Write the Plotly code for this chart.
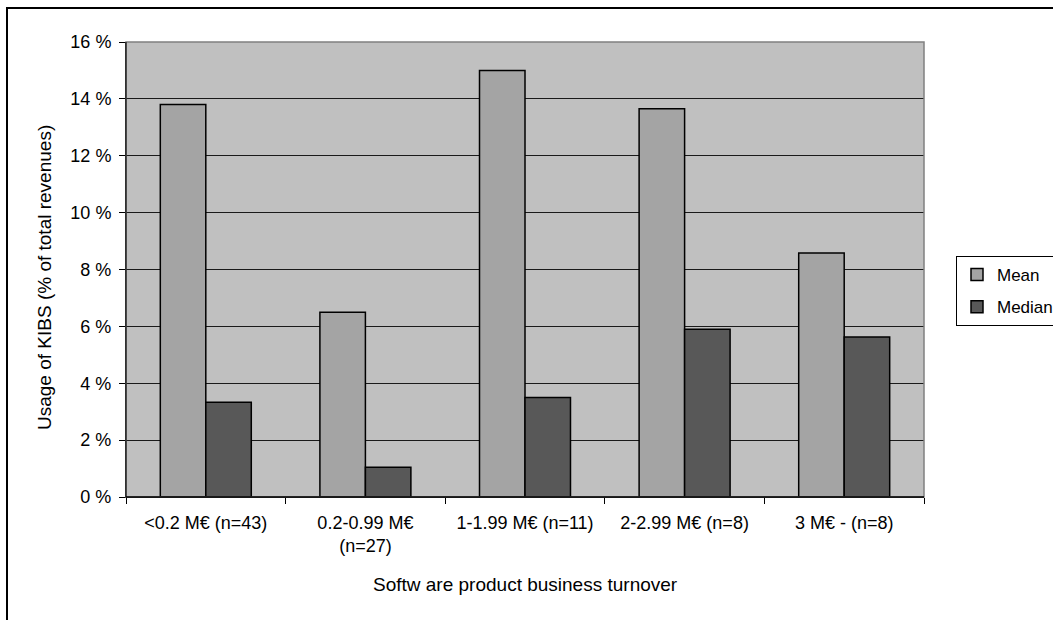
import plotly.graph_objects as go

# Turnover classes (x categories) and KIBS usage, % of total revenues
categories = [
    "<0.2 M€ (n=43)",
    "0.2-0.99 M€<br>(n=27)",
    "1-1.99 M€ (n=11)",
    "2-2.99 M€ (n=8)",
    "3 M€ - (n=8)",
]
mean_pct = [13.8, 6.5, 15.0, 13.65, 8.58]
median_pct = [3.33, 1.05, 3.5, 5.9, 5.63]
y_ticks = [0, 2, 4, 6, 8, 10, 12, 14, 16]

FONT = "Liberation Sans, Arial, sans-serif"
FS = 18
FS_TITLE = 19

fig = go.Figure()
fig.add_trace(go.Bar(
    name="Mean", x=categories, y=mean_pct, legendgroup="mean",
    marker=dict(color="#A4A4A4", line=dict(color="#000000", width=1.5)),
))
fig.add_trace(go.Bar(
    name="Median", x=categories, y=median_pct, legendgroup="median",
    marker=dict(color="#585858", line=dict(color="#000000", width=1.5)),
))

L, R, T, B = 126, 129, 42, 123
W, H = 1053, 620
pw, ph = W - L - R, H - T - B


def px_x(px):
    return (px - L) / pw


def px_y(py):
    return (H - B - py) / ph


fig.update_layout(
    width=W, height=H,
    margin=dict(l=L, r=R, t=T, b=B, pad=0, autoexpand=False),
    paper_bgcolor="#FFFFFF",
    plot_bgcolor="#C0C0C0",
    font=dict(family=FONT, size=FS, color="#000000"),
    barmode="group",
    bargap=0.43,
    bargroupgap=0,
    showlegend=True,
    legend=dict(
        x=px_x(956), y=px_y(256), xanchor="left", yanchor="top",
        bgcolor="#FFFFFF", bordercolor="#000000", borderwidth=1,
        font=dict(family=FONT, size=17),
        traceorder="grouped", tracegroupgap=7,
    ),
    xaxis=dict(
        type="category",
        showgrid=False,
        showline=True, linecolor="#000000", linewidth=1,
        ticks="outside", tickson="boundaries", ticklen=6, tickcolor="#000000",
        ticklabelstandoff=9,
        tickfont=dict(family=FONT, size=FS),
    ),
    yaxis=dict(
        range=[0, 16],
        tickvals=y_ticks,
        ticktext=[f"{v} %" for v in y_ticks],
        showgrid=True, gridcolor="#1A1A1A", gridwidth=1,
        zeroline=False,
        showline=True, linecolor="#000000", linewidth=1,
        ticks="outside", ticklen=6, tickcolor="#000000",
        ticklabelstandoff=4,
        tickfont=dict(family=FONT, size=FS),
    ),
    annotations=[
        dict(text="Usage of KIBS (% of total revenues)", textangle=-90,
             xref="paper", yref="paper", x=px_x(44), y=px_y(278),
             xanchor="center", yanchor="middle", showarrow=False,
             font=dict(family=FONT, size=FS_TITLE)),
        dict(text="Softw are product business turnover",
             xref="paper", yref="paper", x=0.5, y=px_y(584),
             xanchor="center", yanchor="middle", showarrow=False,
             font=dict(family=FONT, size=FS_TITLE)),
    ],
    shapes=[
        # grey frame of the plot area (top and right edges)
        dict(type="rect", xref="paper", yref="paper", x0=0, y0=0, x1=1, y1=1,
             line=dict(color="#808080", width=1.5), layer="above"),
        # redraw axis lines on top of the frame
        dict(type="line", xref="paper", yref="paper", x0=0, y0=0, x1=0, y1=1,
             line=dict(color="#000000", width=1), layer="above"),
        dict(type="line", xref="paper", yref="paper", x0=0, y0=0, x1=1, y1=0,
             line=dict(color="#000000", width=1.5), layer="above"),
        # outer chart border
        dict(type="rect", xref="paper", yref="paper",
             x0=px_x(7), y0=px_y(8), x1=px_x(1080), y1=px_y(650),
             line=dict(color="#000000", width=2), layer="above"),
    ],
)

fig.write_html("out.html")
